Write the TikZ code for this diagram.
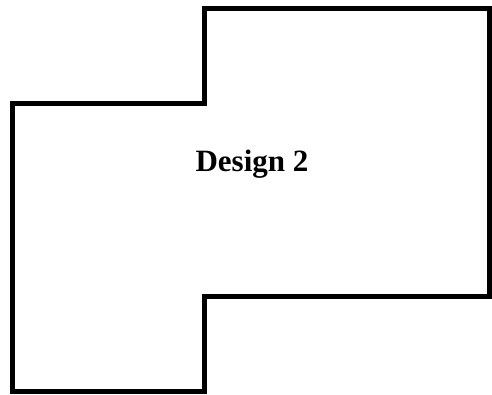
\documentclass[tikz,border=0pt]{standalone}
\usepackage{fontspec}
\setmainfont{Liberation Serif}
\begin{document}
\begin{tikzpicture}[x=1pt,y=-1pt,
  outline/.style={draw=black,line width=5pt,line join=miter},
  lbl/.style={font=\bfseries\fontsize{31}{36}\selectfont}]
\useasboundingbox (0,0) rectangle (492,394);
\draw[outline] (204,8) -- (489,8) -- (489,296) -- (204,296) -- (204,391)
  -- (12,391) -- (12,103) -- (204,103) -- cycle;
\node[lbl] (title) at (252,164) {Design 2};
\end{tikzpicture}
\end{document}
